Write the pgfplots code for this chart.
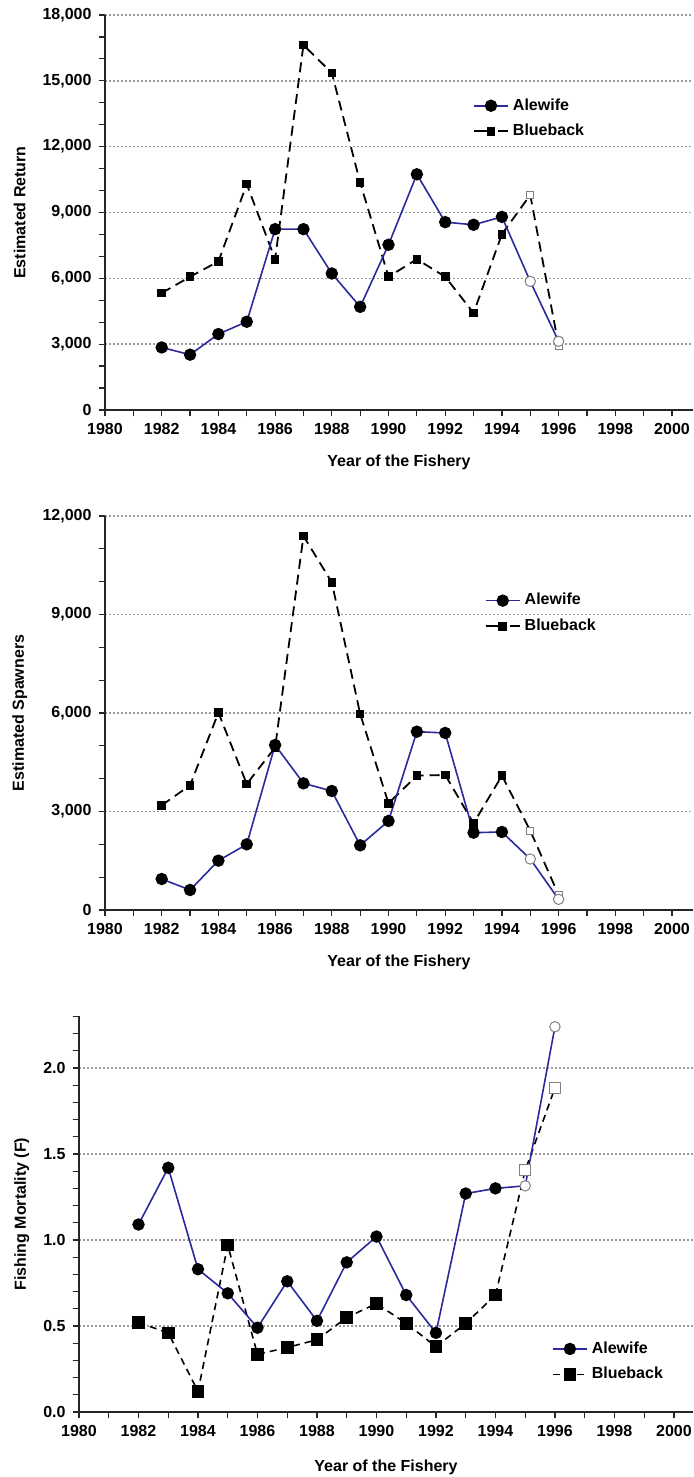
\documentclass[border=0pt]{standalone}
\usepackage{fontspec}
\setmainfont{Liberation Sans}
\usepackage{pgfplots}
\pgfplotsset{compat=1.18}
\definecolor{aleblue}{HTML}{2A2A9C}
\definecolor{gridgray}{HTML}{9A9A9A}
\definecolor{opengray}{HTML}{808080}
\newcommand{\lbl}{\bfseries\fontsize{8}{9.5}\selectfont}
\pgfplotsset{
  fishery/.style={
    scale only axis,
    anchor=south west,
    axis x line=bottom, axis y line=left,
    axis line style={-, line width=0.7pt, black!85},
    xmin=1980,
    xtick={1980,1982,...,2000},
    minor xtick={1981,1983,...,1999},
    tick align=outside,
    major tick length=3.2pt, minor tick length=3.2pt,
    every tick/.style={line width=0.6pt, black!85},
    scaled y ticks=false, scaled x ticks=false,
    ymajorgrids,
    grid style={gridgray, line width=0.75pt, dash pattern=on 0.75pt off 1.25pt},
    tick label style={font=\lbl},
    label style={font=\lbl},
    xticklabel style={/pgf/number format/1000 sep={}},
    /pgf/number format/assume math mode=true,
    xlabel={Year of the Fishery},
    x label style={at={(axis description cs:0.5,-0.133)}, anchor=center},
    legend style={draw=none, fill=none, font=\lbl, cells={anchor=west}, row sep=1.5pt},
    reverse legend,
    clip=false,
  },
  ale/.style={color=aleblue, line width=0.8pt, mark=*, mark size=2.7pt, mark options={solid, fill=black, draw=black}},
  aleopen/.style={color=aleblue, line width=0.8pt, mark=*, mark size=2.6pt, mark options={solid, fill=white, draw=opengray, line width=0.5pt}},
  blb/.style={color=black, line width=0.9pt, dash pattern=on 5pt off 3pt, mark=square*, mark size=1.7pt, mark options={solid, fill=black}, legend image post style={dash pattern=on 10.6pt off 1.6pt}},
  blbopen/.style={color=black, line width=0.9pt, dash pattern=on 5pt off 3pt, mark=square*, mark size=1.8pt, mark options={solid, fill=white, draw=opengray, line width=0.5pt}},
  blbthree/.style={color=black, line width=0.8pt, dash pattern=on 3.5pt off 2.5pt, mark=square*, mark size=2.75pt, mark options={solid, fill=black}},
  blbthreeopen/.style={color=black, line width=0.8pt, dash pattern=on 3.5pt off 2.5pt, mark=square*, mark size=2.75pt, mark options={solid, fill=white, draw=opengray, line width=0.5pt}},
}
\begin{document}
\begin{tikzpicture}
\path[use as bounding box] (0,0) rectangle (346.5pt,738.5pt);

% ---------- Panel 1: Estimated Return ----------
\begin{axis}[fishery,
  at={(52.5pt,533.5pt)}, width=294pt, height=197.5pt,
  xmax=2000.74, ymin=0, ymax=18000,
  ytick={0,3000,...,18000},
  minor ytick={1000,2000,4000,5000,7000,8000,10000,11000,13000,14000,16000,17000},
  yticklabel style={/pgf/number format/.cd, fixed, 1000 sep={,}},
  ylabel={Estimated Return},
  y label style={at={(axis description cs:-0.145,0.5)}, anchor=center},
  legend style={at={(0.615,0.81)}, anchor=north west},
]
\addplot[blb] coordinates {
(1982,5330)(1983,6070)(1984,6770)(1985,10290)(1986,6870)(1987,16630)(1988,15360)
(1989,10360)(1990,6070)(1991,6870)(1992,6070)(1993,4420)(1994,8010)};
\addlegendentry{Blueback}
\addplot[blbopen, forget plot, mark indices={2,3}] coordinates {(1994,8010)(1995,9800)(1996,2930)};
\addplot[ale] coordinates {
(1982,2850)(1983,2520)(1984,3460)(1985,4020)(1986,8240)(1987,8240)(1988,6220)
(1989,4700)(1990,7530)(1991,10740)(1992,8560)(1993,8440)(1994,8800)};
\addlegendentry{Alewife}
\addplot[aleopen, forget plot, mark indices={2,3}] coordinates {(1994,8800)(1995,5860)(1996,3130)};
\end{axis}

% ---------- Panel 2: Estimated Spawners ----------
\begin{axis}[fishery,
  at={(52.5pt,283.5pt)}, width=294pt, height=197pt,
  xmax=2000.74, ymin=0, ymax=12000,
  ytick={0,3000,...,12000},
  minor ytick={1000,2000,4000,5000,7000,8000,10000,11000},
  yticklabel style={/pgf/number format/.cd, fixed, 1000 sep={,}},
  ylabel={Estimated Spawners},
  y label style={at={(axis description cs:-0.145,0.5)}, anchor=center},
  legend style={at={(0.635,0.825)}, anchor=north west},
]
\addplot[blb] coordinates {
(1982,3188)(1983,3797)(1984,6010)(1985,3838)(1986,4950)(1987,11391)(1988,9980)
(1989,5970)(1990,3249)(1991,4091)(1992,4112)(1993,2640)(1994,4091)};
\addlegendentry{Blueback}
\addplot[blbopen, forget plot, mark indices={2,3}] coordinates {(1994,4091)(1995,2416)(1996,457)};
\addplot[ale] coordinates {
(1982,944)(1983,609)(1984,1503)(1985,2000)(1986,5025)(1987,3858)(1988,3624)
(1989,1970)(1990,2711)(1991,5431)(1992,5391)(1993,2355)(1994,2376)};
\addlegendentry{Alewife}
\addplot[aleopen, forget plot, mark indices={2,3}] coordinates {(1994,2376)(1995,1553)(1996,325)};
\end{axis}

% ---------- Panel 3: Fishing Mortality ----------
\begin{axis}[fishery,
  at={(39.5pt,32.5pt)}, width=307pt, height=197.8pt,
  xmax=2000.64, ymin=0, ymax=2.3,
  ytick={0,0.5,1.0,1.5,2.0},
  minor ytick={0.1,0.2,0.3,0.4,0.6,0.7,0.8,0.9,1.1,1.2,1.3,1.4,1.6,1.7,1.8,1.9,2.1,2.2,2.3},
  yticklabel style={/pgf/number format/.cd, fixed, fixed zerofill, precision=1},
  ylabel={Fishing Mortality (F)},
  y label style={at={(axis description cs:-0.093,0.5)}, anchor=center},
  x label style={at={(axis description cs:0.5,-0.139)}, anchor=center},
  legend style={at={(0.76,0.055)}, anchor=south west},
]
\addplot[blbthree] coordinates {
(1982,0.52)(1983,0.46)(1984,0.12)(1985,0.97)(1986,0.335)(1987,0.375)(1988,0.42)
(1989,0.55)(1990,0.63)(1991,0.515)(1992,0.38)(1993,0.515)(1994,0.68)};
\addlegendentry{Blueback}
\addplot[blbthreeopen, forget plot, mark indices={2,3}] coordinates {(1994,0.68)(1995,1.405)(1996,1.885)};
\addplot[ale] coordinates {
(1982,1.09)(1983,1.42)(1984,0.83)(1985,0.69)(1986,0.49)(1987,0.76)(1988,0.53)
(1989,0.87)(1990,1.02)(1991,0.68)(1992,0.46)(1993,1.27)(1994,1.30)};
\addlegendentry{Alewife}
\addplot[aleopen, forget plot, mark indices={2,3}] coordinates {(1994,1.30)(1995,1.315)(1996,2.24)};
\end{axis}
\end{tikzpicture}
\end{document}
